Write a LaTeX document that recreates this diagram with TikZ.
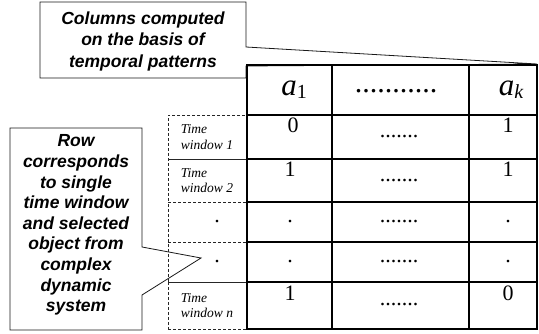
\documentclass[tikz,border=0pt]{standalone}
\usepackage{fontspec}
\setmainfont{Liberation Serif}
\newfontfamily\calfont{Liberation Sans}
\begin{document}
\begin{tikzpicture}[x=1pt,y=-1pt,
  callout/.style={draw=black!90, line width=0.8pt, fill=white},
  calltext/.style={font=\calfont\bfseries\itshape\fontsize{17.5}{21.5}\selectfont, align=center, inner sep=0pt},
  calltextb/.style={font=\calfont\bfseries\itshape\fontsize{17.5}{20.6}\selectfont, align=center, inner sep=0pt},
  cellbox/.style={draw=black, line width=2pt, inner sep=0pt, outer sep=0pt, anchor=north west},
  lblbox/.style={draw=black!85, dash pattern=on 3pt off 2pt, line width=0.7pt, inner sep=0pt, outer sep=0pt, anchor=north west},
  lbltext/.style={font=\itshape\fontsize{13.5}{15.5}\selectfont, align=left, inner sep=0pt},
  valtext/.style={font=\fontsize{22}{24}\selectfont, inner sep=0pt},
  headtext/.style={font=\fontsize{31}{32}\selectfont, inner sep=0pt},
  hdots/.style={font=\fontsize{30}{30}\selectfont, inner sep=0pt}]
\useasboundingbox (0,0) rectangle (539,334);

% callouts
\draw[callout] (40,2) -- (246,2) -- (246,47) -- (537,64) -- (246,66) -- (246,78) -- (40,78) -- cycle;
\node[calltext] (topnote) at (143,41) {Columns computed\\on the basis of\\temporal patterns};
\draw[callout] (10,128) -- (142,128) -- (142,247) -- (201,258) -- (142,295) -- (142,330) -- (10,330) -- cycle;
\node[calltextb] (leftnote) at (76,225) {Row\\corresponds\\to single\\time window\\and selected\\object from\\complex\\dynamic\\system};

% row label boxes
\node[lblbox, minimum width=79pt, minimum height=44pt] (l1) at (168,115) {};
\node[lblbox, minimum width=79pt, minimum height=43pt] (l2) at (168,159) {};
\node[lblbox, minimum width=79pt, minimum height=40pt] (l3) at (168,202) {};
\node[lblbox, minimum width=79pt, minimum height=40pt] (l4) at (168,242) {};
\node[lblbox, minimum width=79pt, minimum height=47pt] (l5) at (168,282) {};
\node[lbltext] (t1) at (207,137) {Time\\window 1};
\node[lbltext] (t2) at (207,180.5) {Time\\window 2};
\node[valtext] (t3) at (217,222) {.};
\node[valtext] (t4) at (217,262) {.};
\node[lbltext] (t5) at (207,305.5) {Time\\window n};

% table header
\node[cellbox, minimum width=85pt, minimum height=50pt] (h1) at (247,65) {};
\node[cellbox, minimum width=137pt, minimum height=50pt] (h2) at (332,65) {};
\node[cellbox, minimum width=68pt, minimum height=50pt] (h3) at (469,65) {};
\node[headtext, anchor=base] (ha1) at (294,96) {\textit{a}\raisebox{-3pt}{\fontsize{20}{20}\selectfont 1}};
\node[hdots, anchor=base] (ha2) at (396,93) {...........};
\node[headtext, anchor=base] (ha3) at (511,96) {\textit{a}\raisebox{-3pt}{\fontsize{20}{20}\selectfont\itshape k}};

% table body
\node[cellbox, minimum width=85pt, minimum height=44pt] (c11) at (247,115) {};
\node[cellbox, minimum width=137pt, minimum height=44pt] (c12) at (332,115) {};
\node[cellbox, minimum width=68pt, minimum height=44pt] (c13) at (469,115) {};
\node[cellbox, minimum width=85pt, minimum height=43pt] (c21) at (247,159) {};
\node[cellbox, minimum width=137pt, minimum height=43pt] (c22) at (332,159) {};
\node[cellbox, minimum width=68pt, minimum height=43pt] (c23) at (469,159) {};
\node[cellbox, minimum width=85pt, minimum height=40pt] (c31) at (247,202) {};
\node[cellbox, minimum width=137pt, minimum height=40pt] (c32) at (332,202) {};
\node[cellbox, minimum width=68pt, minimum height=40pt] (c33) at (469,202) {};
\node[cellbox, minimum width=85pt, minimum height=40pt] (c41) at (247,242) {};
\node[cellbox, minimum width=137pt, minimum height=40pt] (c42) at (332,242) {};
\node[cellbox, minimum width=68pt, minimum height=40pt] (c43) at (469,242) {};
\node[cellbox, minimum width=85pt, minimum height=47pt] (c51) at (247,282) {};
\node[cellbox, minimum width=137pt, minimum height=47pt] (c52) at (332,282) {};
\node[cellbox, minimum width=68pt, minimum height=47pt] (c53) at (469,282) {};

% values
\node[valtext, anchor=base] (v11) at (293,133) {0};
\node[valtext] (v12) at (399,137) {.......};
\node[valtext, anchor=base] (v13) at (508,133) {1};
\node[valtext, anchor=base] (v21) at (290,177) {1};
\node[valtext] (v22) at (399,181) {.......};
\node[valtext, anchor=base] (v23) at (508,177) {1};
\node[valtext] (v31) at (290,222) {.};
\node[valtext] (v32) at (399,222) {.......};
\node[valtext] (v33) at (508,222) {.};
\node[valtext] (v41) at (290,262) {.};
\node[valtext] (v42) at (399,262) {.......};
\node[valtext] (v43) at (508,262) {.};
\node[valtext, anchor=base] (v51) at (290,301) {1};
\node[valtext] (v52) at (399,305) {.......};
\node[valtext, anchor=base] (v53) at (508,301) {0};
\end{tikzpicture}
\end{document}
